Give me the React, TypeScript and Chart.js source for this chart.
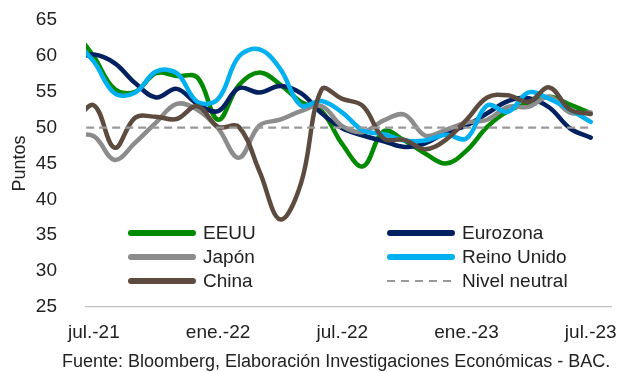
import React, { useEffect, useRef } from 'react';
import { Chart, registerables } from 'chart.js';

Chart.register(...registerables);

// Monthly categories (first one lies just left of the visible axis, as in the source)
const months = [
  'jun.-21', 'jul.-21', 'ago.-21', 'sep.-21', 'oct.-21', 'nov.-21', 'dic.-21',
  'ene.-22', 'feb.-22', 'mar.-22', 'abr.-22', 'may.-22', 'jun.-22', 'jul.-22',
  'ago.-22', 'sep.-22', 'oct.-22', 'nov.-22', 'dic.-22', 'ene.-23', 'feb.-23',
  'mar.-23', 'abr.-23', 'may.-23', 'jun.-23', 'jul.-23',
];
const tickMonths = ['jul.-21', 'ene.-22', 'jul.-22', 'ene.-23', 'jul.-23'];

const eeuu = [63.7, 59.9, 55.4, 55.0, 57.6, 57.2, 57.0, 51.1, 55.9, 57.7, 56.0, 53.6, 52.3, 47.7, 44.6, 49.5, 48.2, 46.4, 45.0, 46.8, 50.1, 52.3, 53.4, 54.3, 53.2, 52.0];
const eurozona = [59.5, 60.2, 59.0, 56.2, 54.2, 55.4, 53.3, 52.3, 55.5, 54.9, 55.8, 54.8, 52.0, 49.9, 48.9, 48.1, 47.3, 47.8, 49.3, 50.3, 52.0, 53.7, 54.1, 52.8, 49.9, 48.6];
const japon = [48.9, 48.8, 45.5, 47.9, 50.7, 53.3, 52.5, 49.9, 45.8, 50.3, 51.1, 52.3, 53.0, 50.2, 49.4, 51.0, 51.8, 48.9, 49.7, 50.7, 51.1, 52.9, 52.9, 54.3, 52.1, 52.1];
const reinoUnido = [62.2, 59.2, 54.8, 54.9, 57.8, 57.6, 53.6, 54.0, 59.9, 60.9, 58.2, 53.1, 53.7, 52.1, 49.6, 49.1, 48.2, 48.2, 49.0, 48.5, 53.1, 52.2, 54.9, 54.0, 52.5, 50.8];
const china = [50.6, 53.1, 47.2, 51.4, 51.5, 51.2, 53.0, 50.1, 50.1, 43.9, 37.2, 42.2, 55.3, 54.0, 53.0, 48.5, 48.3, 47.0, 48.3, 51.1, 54.2, 54.5, 53.6, 55.6, 52.5, 51.9];
const nivelNeutral = 50;

const FONT = '"Liberation Sans", Arial, sans-serif';
const TEXT = '#222222';

const toPoints = (arr: number[]) => arr.map((v, i) => ({ x: i - 1, y: v }));

const legendPlugin = {
  id: 'insideLegend',
  afterDraw(chart: any) {
    const ctx = chart.ctx;
    const cols = [128, 387];
    const rows = [233, 257, 281];
    const len = 68;
    ctx.save();
    ctx.font = `19px ${FONT}`;
    ctx.textBaseline = 'middle';
    chart.data.datasets.forEach((ds: any, i: number) => {
      const x = cols[i % 2];
      const y = rows[Math.floor(i / 2)];
      const dashed = Array.isArray(ds.borderDash) && ds.borderDash.length > 0;
      ctx.beginPath();
      ctx.strokeStyle = ds.borderColor;
      ctx.lineWidth = dashed ? 2 : 6;
      ctx.lineCap = dashed ? 'butt' : 'round';
      ctx.setLineDash(dashed ? [8, 6] : []);
      if (dashed) {
        ctx.moveTo(x, y);
        ctx.lineTo(x + len, y);
      } else {
        ctx.moveTo(x + 3, y);
        ctx.lineTo(x + len - 3, y);
      }
      ctx.stroke();
      ctx.setLineDash([]);
      ctx.fillStyle = TEXT;
      ctx.fillText(ds.label, x + len + 7, y + 1);
    });
    ctx.restore();
  },
};

export default function App() {
  const ref = useRef<HTMLCanvasElement | null>(null);

  useEffect(() => {
    if (!ref.current) return;
    const line = (label: string, data: number[], color: string, order: number) => ({
      label,
      data: toPoints(data),
      borderColor: color,
      backgroundColor: color,
      borderWidth: 4.5,
      pointRadius: 0,
      tension: 0.38,
      fill: false,
      order,
      borderCapStyle: 'round' as const,
    });
    const chart = new Chart(ref.current, {
      type: 'line',
      data: {
        datasets: [
          line('EEUU', eeuu, '#008a00', 6),
          line('Eurozona', eurozona, '#002060', 5),
          line('Japón', japon, '#8c8c8c', 4),
          line('Reino Unido', reinoUnido, '#00b0f0', 3),
          line('China', china, '#5e4b3f', 2),
          {
            label: 'Nivel neutral',
            data: [
              { x: -1, y: nivelNeutral },
              { x: months.length - 2, y: nivelNeutral },
            ],
            borderColor: '#999999',
            backgroundColor: '#999999',
            borderWidth: 2.2,
            borderDash: [8, 5],
            pointRadius: 0,
            tension: 0,
            fill: false,
            order: 1,
          },
        ],
      },
      options: {
        responsive: false,
        animation: false,
        events: [],
        layout: { padding: { top: 20, left: 0, right: 10, bottom: 0 } },
        plugins: {
          legend: { display: false },
          tooltip: { enabled: false },
          title: { display: false },
        },
        scales: {
          x: {
            type: 'linear',
            min: -0.38,
            max: 25,
            grid: { display: false, drawTicks: false },
            border: { display: true, color: '#bfbfbf', width: 1.2 },
            afterBuildTicks: (s: any) => {
              s.ticks = tickMonths.map((m) => ({ value: months.indexOf(m) - 1 }));
            },
            afterFit: (s: any) => {
              s.height = 65;
            },
            ticks: {
              autoSkip: false,
              maxRotation: 0,
              padding: 14,
              color: TEXT,
              font: { family: FONT, size: 19 },
              callback: (v: any) => months[Number(v) + 1],
            },
          },
          y: {
            min: 25,
            max: 65,
            grid: { display: false, drawTicks: false },
            border: { display: false },
            afterFit: (s: any) => {
              s.width = 86;
              s.paddingTop = 0;
              s.paddingBottom = 0;
            },
            ticks: {
              stepSize: 5,
              padding: 29,
              color: TEXT,
              font: { family: FONT, size: 19 },
            },
            title: {
              display: true,
              text: 'Puntos',
              color: TEXT,
              font: { family: FONT, size: 18 },
              padding: { top: 9, bottom: 0 },
            },
          },
        },
      },
      plugins: [legendPlugin],
    });
    return () => chart.destroy();
  }, []);

  return (
    <div style={{ position: 'fixed', left: 0, top: 0, width: 631, height: 372, background: '#fff' }}>
      <canvas ref={ref} width={631} height={372} style={{ width: 631, height: 372, display: 'block' }} />
      <div
        style={{
          position: 'absolute',
          left: 62,
          top: 352,
          fontFamily: FONT,
          fontSize: 18,
          lineHeight: '18px',
          color: TEXT,
          whiteSpace: 'nowrap',
        }}
      >
        Fuente: Bloomberg, Elaboración Investigaciones Económicas - BAC.
      </div>
    </div>
  );
}
